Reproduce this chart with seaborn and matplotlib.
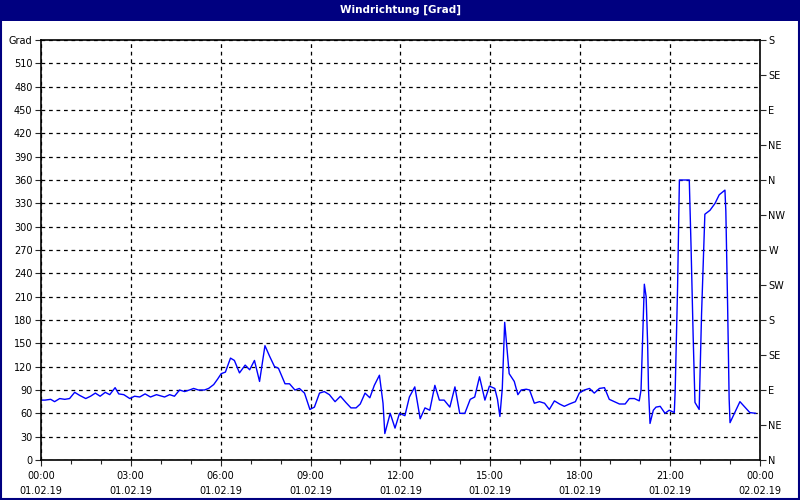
import numpy as np
import pandas as pd
import matplotlib
matplotlib.use("Agg")
import matplotlib.pyplot as plt
import matplotlib.dates as mdates
from matplotlib.patches import Rectangle
import seaborn as sns

# Wind direction readings, hours after 01.02.19 00:00
hours = [0.0, 0.14, 0.33, 0.46, 0.63, 0.8, 0.96, 1.13, 1.3, 1.5, 1.66, 1.82, 1.98,
         2.15, 2.3, 2.48, 2.6, 2.77, 2.97, 3.13, 3.3, 3.48, 3.66, 3.86,
         4.13, 4.3, 4.46, 4.63, 4.8, 4.96, 5.1, 5.26, 5.46, 5.6, 5.77, 5.9,
         6.02, 6.16, 6.33, 6.46, 6.63, 6.82, 6.97, 7.13, 7.3, 7.48, 7.64, 7.8, 7.93,
         8.15, 8.3, 8.48, 8.63, 8.8, 8.98, 9.13, 9.3, 9.46, 9.63, 9.82, 10.0,
         10.18, 10.35, 10.52, 10.66, 10.82, 10.98, 11.13, 11.3, 11.42, 11.48,
         11.66, 11.82, 11.97,
         12.15, 12.3, 12.48, 12.66, 12.82, 12.98, 13.15, 13.3, 13.46, 13.65,
         13.82, 13.98, 14.15, 14.33, 14.48, 14.64, 14.82, 14.97, 15.15, 15.24,
         15.32, 15.4, 15.48, 15.63, 15.8,
         15.92, 16.03, 16.2, 16.31, 16.47, 16.64, 16.81, 16.97, 17.14, 17.31,
         17.47, 17.64, 17.84, 17.97, 18.14, 18.31, 18.47, 18.64, 18.81, 18.97,
         19.14, 19.31, 19.5, 19.64, 19.81, 19.97, 20.03, 20.08, 20.14, 20.2,
         20.25, 20.28, 20.33, 20.44, 20.53, 20.67, 20.83, 20.97, 21.14, 21.17,
         21.25, 21.31, 21.64, 21.7, 21.77, 21.83, 21.97, 22.05, 22.16, 22.33,
         22.5, 22.64, 22.83, 22.86, 22.92, 22.97, 23.0, 23.33, 23.66, 23.86]

grad = [77, 77, 78, 75, 79, 78, 79, 87, 83, 79, 82, 86, 82,
        87, 84, 93, 85, 84, 79, 82, 81, 85, 81, 84,
        81, 84, 82, 90, 88, 90, 92, 90, 90, 92, 97, 104,
        111, 113, 131, 128, 112, 122, 116, 128, 101, 147, 133, 120, 118,
        98, 98, 90, 92, 86, 65, 68, 86, 88, 84, 75, 82,
        74, 67, 67, 72, 86, 80, 96, 109, 73, 34,
        60, 41, 60,
        57, 81, 94, 53, 67, 64, 96, 77, 77, 68,
        94, 60, 60, 78, 81, 107, 77, 95, 92, 78,
        56, 92, 177, 111, 101,
        84, 90, 91, 90, 73, 75, 73, 65, 76, 72,
        69, 72, 75, 86, 90, 92, 86, 92, 93, 78,
        75, 72, 72, 79, 79, 76, 90, 150, 226, 210,
        150, 90, 47, 64, 68, 69, 60, 64, 61, 90,
        223, 360, 360, 273, 158, 74, 65, 188, 316, 321,
        330, 341, 347, 320, 197, 79, 48, 75, 61, 60]

left_ticks = list(range(0, 541, 30))
left_labels = [str(v) for v in left_ticks[:-1]] + ["Grad"]
compass_ticks = list(range(0, 541, 45))
compass_labels = ["N", "NE", "E", "SE", "S", "SW", "W", "NW",
                  "N", "NE", "E", "SE", "S"]

start = pd.Timestamp("2019-02-01 00:00")
df = pd.DataFrame({"time": start + pd.to_timedelta(hours, unit="h"), "grad": grad})

sns.set_style("white")
plt.rcParams["font.family"] = ["DejaVu Sans"]

fig = plt.figure(figsize=(8, 5), dpi=100)
ax = fig.add_axes([0.051, 0.08, 0.899, 0.84])

sns.lineplot(data=df, x="time", y="grad", ax=ax, color="#0000ff", linewidth=1.0)

ax.set_xlim(start, start + pd.Timedelta(hours=24))
ax.set_ylim(0, 540)
ax.set_xlabel("")
ax.set_ylabel("")

ax.xaxis.set_major_locator(mdates.HourLocator(byhour=range(0, 24, 3)))
ax.xaxis.set_minor_locator(mdates.HourLocator())
ax.xaxis.set_major_formatter(mdates.DateFormatter("%H:%M\n%d.%m.%y"))
ax.set_yticks(left_ticks)
ax.set_yticklabels(left_labels)

ax.grid(True, which="major", color="black", linestyle=(0, (3, 3)), linewidth=0.9)
ax.tick_params(axis="both", which="major", direction="out", length=4, width=0.8,
               labelsize=7, pad=2, left=True, bottom=True, labelcolor="black")
ax.tick_params(axis="x", which="minor", direction="out", length=3, width=0.8, bottom=True)
ax.tick_params(axis="x", which="major", pad=4)
fig.canvas.draw()
for lbl in ax.get_xticklabels():
    lbl.set_linespacing(1.55)
for sp in ax.spines.values():
    sp.set_color("black")
    sp.set_linewidth(1.2)

ax2 = ax.twinx()
ax2.set_ylim(0, 540)
ax2.set_yticks(compass_ticks)
ax2.set_yticklabels(compass_labels)
ax2.tick_params(axis="y", direction="out", length=4, width=0.8, labelsize=7, pad=2,
                right=True, labelcolor="black")
for sp in ax2.spines.values():
    sp.set_visible(False)

# title bar and window frame
fig.patches.append(Rectangle((0, 1 - 21 / 500), 1, 21 / 500, transform=fig.transFigure,
                             facecolor="#000080", edgecolor="none", zorder=0))
fig.text(0.5, 1 - 10 / 500, "Windrichtung [Grad]", color="white", fontsize=7.5,
         fontweight="bold", ha="center", va="center")
fig.patches.append(Rectangle((0.001, 0.002), 0.998, 0.996, transform=fig.transFigure,
                             fill=False, edgecolor="#000080", linewidth=1.5))

fig.savefig("out.png", dpi=100)
